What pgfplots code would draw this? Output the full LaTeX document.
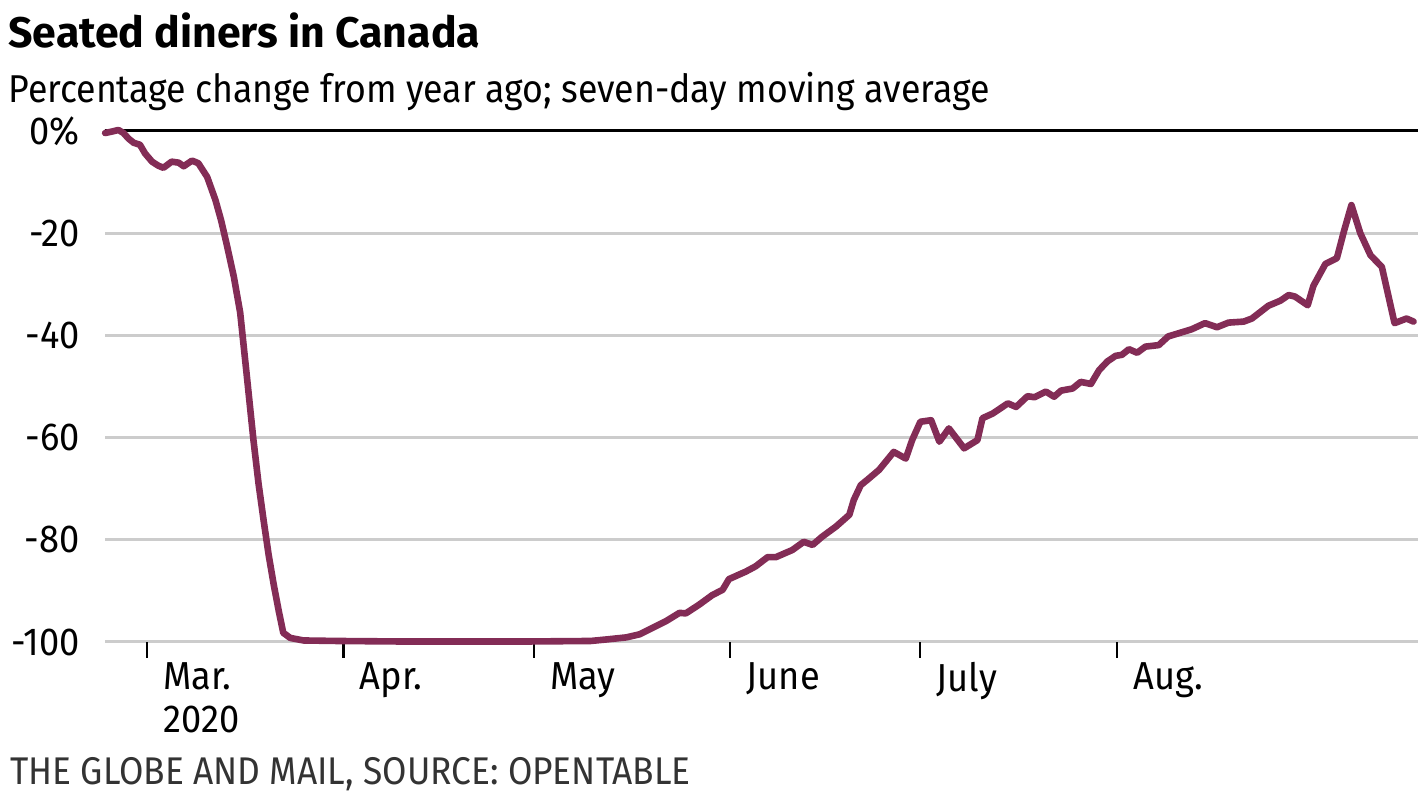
\documentclass[border=0pt]{standalone}
\usepackage{pgfplots}
\pgfplotsset{compat=1.18}
\usepackage{fontspec}
\setmainfont{Fira Sans}
\newfontfamily\condfont[FakeStretch=0.93]{Fira Sans}
\newfontfamily\srcfont[FakeStretch=0.915]{Fira Sans}
\newfontfamily\subfont[FakeStretch=0.92]{Fira Sans}
\definecolor{lineclr}{RGB}{131,44,86}
\definecolor{gridclr}{RGB}{204,204,204}
\begin{document}
\begin{tikzpicture}[x=1pt,y=1pt]
\useasboundingbox (0,0) rectangle (712.5,399);
\begin{axis}[
  at={(52.5pt,78pt)}, anchor=south west,
  scale only axis, width=656.5pt, height=255.5pt,
  xmin=-6.62, xmax=200.5, ymin=-100, ymax=0,
  clip=false,
  axis line style={draw=none},
  tick pos=left,
  xtick={0,31,61,92,122,153},
  xticklabels={{Mar.\\2020},Apr.,May,June,July,Aug.},
  xtick align=outside,
  major tick length=8pt,
  x tick style={black, line width=1.1pt},
  y tick style={draw=none},
  ytick={-100,-80,-60,-40,-20,0},
  yticklabels={-100,-80,-60,-40,-20,0\%},
  ymajorgrids,
  grid style={gridclr, line width=1.5pt},
  xticklabel style={font=\condfont\fontsize{19.5}{21.5}\selectfont, anchor=north west, align=left, inner sep=0pt, xshift=8pt, yshift=-2pt},
  yticklabel style={font=\condfont\fontsize{19.5}{21.5}\selectfont, anchor=east, inner sep=0pt, xshift=-12.5pt},
]
\draw[black, line width=1.5pt] (rel axis cs:0,1) -- (rel axis cs:1,1);
\addplot[lineclr, line width=3.3pt, line join=round, line cap=round] coordinates {
(-6.6,-0.4) (-5.5,-0.1) (-4.5,0.2) (-3.7,-0.4) (-2.9,-1.5) (-2.1,-2.3) (-1.1,-2.7)
(-0.3,-4.4) (0.8,-6.0) (1.8,-6.8) (2.6,-7.2) (3.9,-6.0) (5.0,-6.2) (5.8,-6.9)
(7.1,-5.8) (8.1,-6.3) (9.5,-9.0) (10.8,-13.5) (11.7,-17.5) (12.6,-22.3) (13.7,-28.5)
(14.7,-35.5) (15.8,-48.5) (16.8,-60.5) (17.6,-69) (18.4,-76.2) (19.2,-83) (20.0,-88.8)
(20.8,-94) (21.5,-98.2) (22.6,-99.2) (24.7,-99.7) (30,-99.8) (40,-99.9) (50,-99.9)
(60,-99.9) (70,-99.8) (72.5,-99.5) (75.6,-99.1) (77.7,-98.5) (79.8,-97.2) (81.9,-95.9)
(84.0,-94.3) (85.0,-94.4) (87.1,-92.7) (89.2,-90.8) (90.8,-89.8) (91.8,-87.7) (94.5,-86.2)
(96.0,-85.2) (97.9,-83.4) (99.2,-83.4) (101.8,-82.0) (103.6,-80.4) (105.0,-81.0)
(106.5,-79.4) (108.7,-77.4) (110.8,-75.1) (111.5,-72.2) (112.6,-69.3) (113.6,-68.3)
(115.5,-66.3) (117.8,-62.8) (119.7,-64.1) (120.7,-60.5) (122.0,-56.9) (123.7,-56.6)
(125.0,-60.8) (126.5,-58.2) (128.9,-62.1) (131.0,-60.5) (131.8,-56.2) (133.4,-55.3)
(135.8,-53.3) (137.1,-54.0) (138.9,-51.9) (140.0,-52.1) (141.8,-51.0) (143.1,-52.0)
(144.2,-50.8) (146.0,-50.4) (147.3,-49.1) (148.9,-49.5) (150.2,-46.8) (151.5,-45.1)
(152.8,-44.0) (153.8,-43.8) (154.9,-42.7) (156.2,-43.4) (157.5,-42.2) (159.6,-41.9)
(161.1,-40.2) (162.7,-39.6) (164.8,-38.8) (166.9,-37.6) (168.8,-38.4) (170.6,-37.5)
(173.0,-37.3) (174.3,-36.7) (176.9,-34.2) (178.8,-33.2) (180.1,-32.1) (181.1,-32.4)
(183.1,-34.1) (184.0,-30.3) (185.9,-26.0) (187.7,-24.9) (188.8,-19.7) (190.0,-14.5)
(191.4,-20.0) (193.0,-24.3) (194.8,-26.6) (196.8,-37.6) (198.7,-36.7) (199.8,-37.3)
};
\end{axis}
\node[anchor=base west, inner sep=0pt] at (4,375) {\fontsize{21.4}{26}\selectfont\bfseries Seated diners in Canada};
\node[anchor=base west, inner sep=0pt] at (4,347.5) {\subfont\fontsize{19.4}{24}\selectfont Percentage change from year ago; seven-day moving average};
\node[anchor=base west, inner sep=0pt, text=black!80] at (5,6.5) {\srcfont\fontsize{19.3}{24}\selectfont THE GLOBE AND MAIL, SOURCE: OPENTABLE};
\end{tikzpicture}
\end{document}
